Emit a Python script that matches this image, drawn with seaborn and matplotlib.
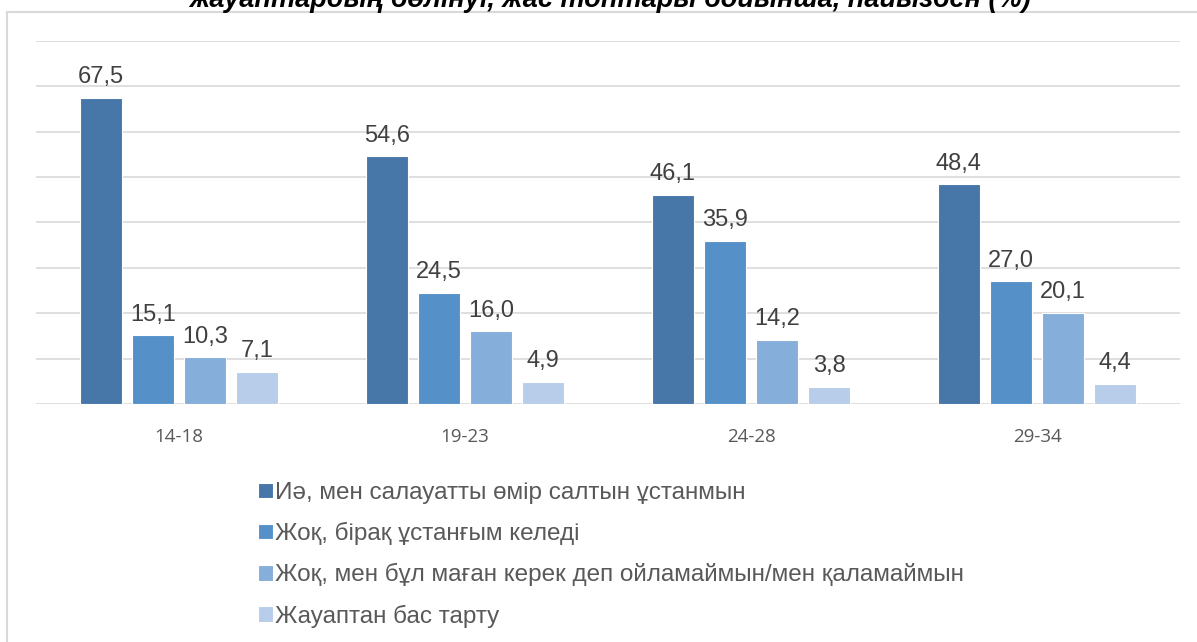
import numpy as np
import pandas as pd
import matplotlib
matplotlib.use("Agg")
import matplotlib.pyplot as plt
import seaborn as sns
from matplotlib.lines import Line2D

age_groups = ["14-18", "19-23", "24-28", "29-34"]
answers = [
    "Иә, мен салауатты өмір салтын ұстанмын",
    "Жоқ, бірақ ұстанғым келеді",
    "Жоқ, мен бұл маған керек деп ойламаймын/мен қаламаймын",
    "Жауаптан бас тарту",
]
yes_values = [67.5, 54.6, 46.1, 48.4]
want_values = [15.1, 24.5, 35.9, 27.0]
no_values = [10.3, 16.0, 14.2, 20.1]
refuse_values = [7.1, 4.9, 3.8, 4.4]
colors = ["#4677A8", "#5591C8", "#86AEDB", "#B7CDE9"]
title = "жауаптардың бөлінуі, жас топтары бойынша, пайызбен (%)"

series = [yes_values, want_values, no_values, refuse_values]
df = pd.DataFrame({
    "age": np.tile(age_groups, len(answers)),
    "answer": np.repeat(answers, len(age_groups)),
    "value": np.concatenate(series),
})

sns.set_style("white")
plt.rcParams["font.family"] = ["Liberation Sans", "DejaVu Sans"]

fig = plt.figure(figsize=(11.97, 6.42), dpi=100)
ax = fig.add_axes([36 / 1197, 1 - 404 / 642, (1180 - 36) / 1197, (404 - 41) / 642])

sns.barplot(data=df, x="age", y="value", hue="answer", order=age_groups,
            hue_order=answers, palette=colors, saturation=1, width=0.73, gap=0.2,
            edgecolor="white", linewidth=0.8, errorbar=None, legend=True, ax=ax)

ax.set_ylim(0, 80)
ax.set_xlim(-0.5, 3.5)
ax.set_yticks(np.arange(0, 81, 10))
ax.yaxis.grid(True, color="#D9D9D9", linewidth=1.2)
ax.set_axisbelow(True)
ax.tick_params(axis="y", left=False, labelleft=False)
ax.tick_params(axis="x", bottom=False, pad=14)
for lbl in ax.get_xticklabels():
    lbl.set_fontfamily(["Open Sans", "DejaVu Sans"])
    lbl.set_fontsize(13.5)
    lbl.set_color("#595959")
ax.set_xlabel("")
ax.set_ylabel("")
for s in ax.spines.values():
    s.set_visible(False)

for cont, vals in zip(ax.containers, series):
    ax.bar_label(cont, labels=[f"{v:.1f}".replace(".", ",") for v in vals],
                 padding=7, fontsize=17, color="#404040")

handles, labels = ax.get_legend_handles_labels()
ax.get_legend().remove()
fig.legend(handles, labels, loc="upper left", bbox_to_anchor=(246 / 1197, 1 - 470 / 642),
           frameon=False, fontsize=17.5, labelcolor="#595959", handlelength=0.6,
           handleheight=0.6, handletextpad=0.08, labelspacing=0.74, borderpad=0)

# chart frame
fig.add_artist(Line2D([7 / 1197, 7 / 1197], [0, 1 - 12 / 642], transform=fig.transFigure,
                      color="#D9D9D9", linewidth=1.5))
fig.add_artist(Line2D([7 / 1197, 1], [1 - 12 / 642, 1 - 12 / 642], transform=fig.transFigure,
                      color="#D9D9D9", linewidth=1.5))

fig.text(0.51, 1 - 7 / 642, title, ha="center", va="baseline", fontsize=19.5,
         fontweight="bold", fontstyle="italic", color="black")

fig.savefig("out.png", dpi=100)
